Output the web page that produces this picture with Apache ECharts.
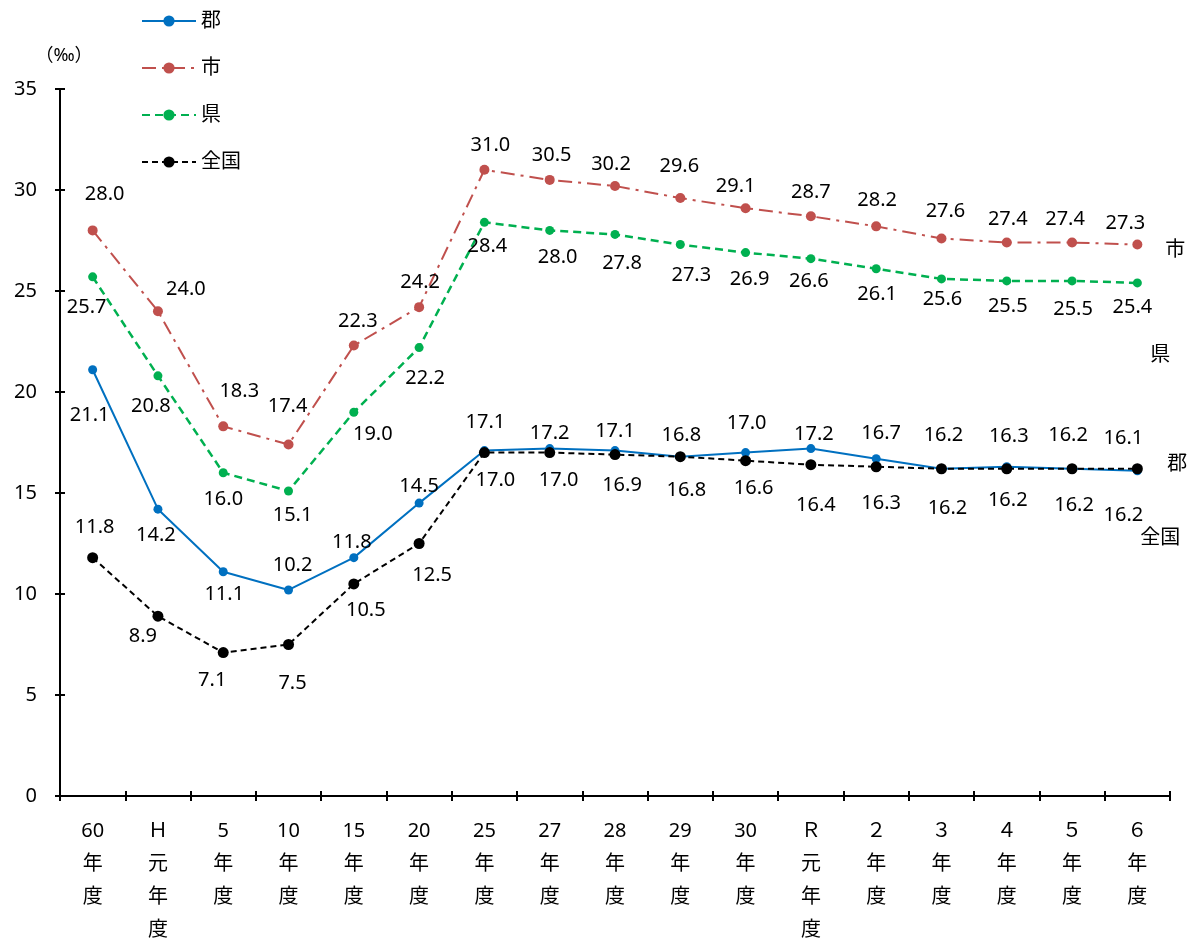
<!DOCTYPE html>
<html>
<head>
<meta charset="utf-8">
<script src="https://cdn.jsdelivr.net/npm/echarts@6/dist/echarts.min.js"></script>
<style>
html,body{margin:0;padding:0;background:#fff;}
#chart{width:1195px;height:947px;}
</style>
</head>
<body>
<div id="chart"></div>
<script>
// ---- data ----
var categories = ['60年度','Ｈ元年度','5年度','10年度','15年度','20年度','25年度','27年度','28年度','29年度','30年度','Ｒ元年度','２年度','３年度','４年度','５年度','６年度'];
var seriesNames = ['郡','市','県','全国'];
var gunValues   = [21.1,14.2,11.1,10.2,11.8,14.5,17.1,17.2,17.1,16.8,17.0,17.2,16.7,16.2,16.3,16.2,16.1];
var shiValues   = [28.0,24.0,18.3,17.4,22.3,24.2,31.0,30.5,30.2,29.6,29.1,28.7,28.2,27.6,27.4,27.4,27.3];
var kenValues   = [25.7,20.8,16.0,15.1,19.0,22.2,28.4,28.0,27.8,27.3,26.9,26.6,26.1,25.6,25.5,25.5,25.4];
var zenValues   = [11.8,8.9,7.1,7.5,10.5,12.5,17.0,17.0,16.9,16.8,16.6,16.4,16.3,16.2,16.2,16.2,16.2];
var yTicks = {min:0, max:35, interval:5};

// ---- label placement (style, px offsets from point) ----
var gunOffsets = [[-3,46],[-2,26],[1,23],[4,-25],[-2,-15],[0,-17],[1,-28],[0,-15],[0,-19],[1,-21],[1,-29],[3,-14],[5,-25],[2,-33],[2,-30],[-4,-33],[-14,-32]];
var shiOffsets = [[12,-36],[28,-22],[16,-35],[-1,-38],[4,-24],[1,-25],[6,-25],[2,-25],[-4,-22],[-1,-32],[-10,-22],[0,-24],[1,-26],[4,-27],[1,-23],[-7,-23],[-12,-21]];
var kenOffsets = [[-6,30],[-7,30],[0,26],[4,24],[19,22],[6,31],[3,24],[8,27],[7,29],[11,31],[4,27],[-2,23],[1,26],[1,20],[1,25],[1,28],[-5,24]];
var zenOffsets = [[2,-30],[-15,20],[-11,28],[4,39],[12,26],[13,32],[11,28],[9,28],[7,31],[6,34],[8,28],[5,41],[5,37],[6,40],[1,32],[2,37],[-14,47]];

var FONT = "'Noto Sans','Noto Sans CJK JP',sans-serif";

function buildData(values, offsets){
  return values.map(function(v,i){
    return {value:v, label:{offset:offsets[i]}};
  });
}

function makeSeries(name, values, offsets, color, lineType, width, symSize, endOffset, z){
  return {
    name: name,
    type: 'line',
    data: buildData(values, offsets),
    symbol: 'circle',
    symbolSize: symSize,
    z: z,
    itemStyle: {color: color},
    lineStyle: {color: color, width: width, type: lineType},
    label: {
      show: true,
      position: 'inside',
      color: '#000',
      fontSize: 20,
      fontFamily: FONT,
      formatter: function(p){ return p.value.toFixed(1); }
    },
    endLabel: {
      show: true,
      formatter: name,
      distance: 0,
      offset: endOffset,
      align: 'left',
      verticalAlign: 'middle',
      color: '#000',
      fontSize: 20,
      fontFamily: FONT
    },
    emphasis: {disabled: true},
    animation: false
  };
}

var chart = echarts.init(document.getElementById('chart'));
var option = {
  backgroundColor: '#fff',
  animation: false,
  textStyle: {fontFamily: FONT},
  grid: {left: 60, right: 25, top: 89, bottom: 148},
  legend: {
    orient: 'vertical',
    left: 136,
    top: 6,
    itemWidth: 54,
    itemHeight: 14,
    itemGap: 27,
    data: seriesNames,
    textStyle: {fontSize: 20, color: '#000', fontFamily: FONT}
  },
  xAxis: [{
    type: 'category',
    data: categories,
    boundaryGap: true,
    axisLine: {show: true, lineStyle: {color: '#000', width: 2}},
    axisTick: {show: true, alignWithLabel: false, length: 5, lineStyle: {color: '#000', width: 2}},
    axisLabel: {
      interval: 0,
      margin: 19,
      color: '#000',
      fontSize: 20,
      lineHeight: 33,
      fontFamily: FONT,
      formatter: function(v){ return v.match(/[0-9]+|./g).join('\n'); }
    },
    splitLine: {show: false}
  },{
    type: 'category',
    data: categories,
    position: 'bottom',
    boundaryGap: true,
    axisLine: {show: false},
    axisTick: {show: true, inside: true, length: 5, lineStyle: {color: '#000', width: 2}},
    axisLabel: {show: false},
    splitLine: {show: false}
  }],
  yAxis: [{
    type: 'value',
    min: yTicks.min,
    max: yTicks.max,
    interval: yTicks.interval,
    name: '（‰）',
    nameLocation: 'end',
    nameGap: 24,
    nameTextStyle: {color: '#000', fontSize: 18, fontFamily: FONT, padding: [0,0,0,8]},
    axisLine: {show: true, lineStyle: {color: '#000', width: 2}},
    axisTick: {show: true, length: 5, lineStyle: {color: '#000', width: 2}},
    axisLabel: {color: '#000', fontSize: 20, margin: 23, fontFamily: FONT},
    splitLine: {show: false}
  },{
    type: 'value',
    position: 'left',
    min: yTicks.min,
    max: yTicks.max,
    interval: yTicks.interval,
    axisLine: {show: false},
    axisTick: {show: true, inside: true, length: 5, lineStyle: {color: '#000', width: 2}},
    axisLabel: {show: false},
    splitLine: {show: false}
  }],
  series: [
    makeSeries('郡', gunValues, gunOffsets, '#0070C0', 'solid', 2, 9, [30,-6], 4),
    makeSeries('市', shiValues, shiOffsets, '#C0504D', [14,6,3,6], 2, 10, [28,6], 3),
    makeSeries('県', kenValues, kenOffsets, '#00B050', [8,5], 2.5, 9, [13,72], 2),
    makeSeries('全国', zenValues, zenOffsets, '#000000', [6,4], 2, 11, [3,70], 5)
  ]
};
chart.setOption(option);
</script>
</body>
</html>
